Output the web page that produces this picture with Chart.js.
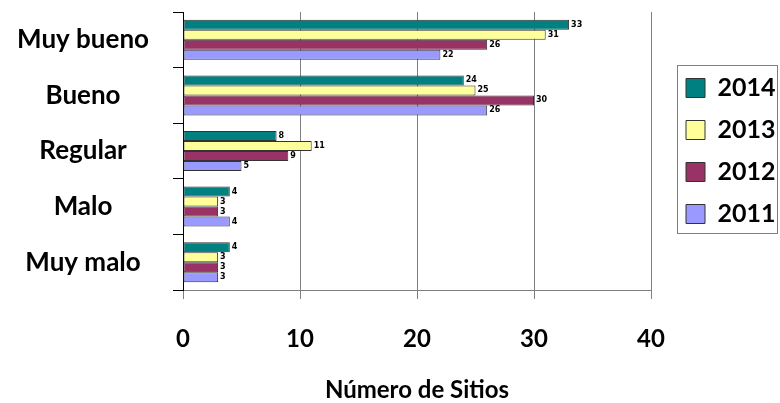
<!DOCTYPE html>
<html>
<head>
<meta charset="utf-8">
<script src="https://cdn.jsdelivr.net/npm/chart.js@4/dist/chart.umd.min.js"></script>
<style>
  html, body { margin: 0; padding: 0; background: #fff; }
  #wrap { width: 780px; height: 403px; }
</style>
</head>
<body>
<div id="wrap"><canvas id="sitiosChart"></canvas></div>
<script>
// categorías y valores por año
const categorias = ["Muy bueno", "Bueno", "Regular", "Malo", "Muy malo"];
const valores2014 = [33, 24, 8, 4, 4];
const valores2013 = [31, 25, 11, 3, 3];
const valores2012 = [26, 30, 9, 3, 3];
const valores2011 = [22, 26, 5, 4, 3];
const ticksX = [0, 10, 20, 30, 40];

const FONT = "Lato, 'Open Sans', sans-serif";

// etiquetas numéricas al final de cada barra
const etiquetasBarras = {
  id: 'etiquetasBarras',
  afterDatasetsDraw(chart) {
    const ctx = chart.ctx;
    ctx.save();
    ctx.font = "bold 8px 'DejaVu Sans', sans-serif";
    ctx.fillStyle = '#000';
    ctx.textAlign = 'left';
    ctx.textBaseline = 'middle';
    chart.data.datasets.forEach((ds, i) => {
      chart.getDatasetMeta(i).data.forEach((bar, j) => {
        ctx.fillText(ds.data[j], bar.x + 2, bar.y);
      });
    });
    ctx.restore();
  }
};

// recuadro alrededor de la leyenda
const marcoLeyenda = {
  id: 'marcoLeyenda',
  afterDraw(chart) {
    const boxes = chart.legend && chart.legend.legendHitBoxes;
    if (!boxes || !boxes.length) return;
    const first = boxes[0], last = boxes[boxes.length - 1];
    const ctx = chart.ctx;
    ctx.save();
    ctx.strokeStyle = '#808080';
    ctx.lineWidth = 1;
    const l = first.left - 9, t = first.top - 11;
    const r = l + 100, b = last.top + last.height + 6;
    ctx.strokeRect(Math.round(l) + 0.5, Math.round(t) + 0.5, Math.round(r - l), Math.round(b - t));
    ctx.restore();
  }
};

const ctx = document.getElementById('sitiosChart').getContext('2d');
new Chart(ctx, {
  type: 'bar',
  data: {
    labels: categorias,
    datasets: [
      { label: '2014', data: valores2014, backgroundColor: '#008080' },
      { label: '2013', data: valores2013, backgroundColor: '#FFFF99' },
      { label: '2012', data: valores2012, backgroundColor: '#993366' },
      { label: '2011', data: valores2011, backgroundColor: '#9999FF' }
    ].map(d => Object.assign(d, {
      borderColor: '#333',
      borderWidth: 1,
      borderSkipped: false,
      categoryPercentage: 0.72,
      barPercentage: 1
    }))
  },
  options: {
    indexAxis: 'y',
    responsive: true,
    maintainAspectRatio: false,
    animation: false,
    layout: { padding: { left: 0, right: 0, top: 12, bottom: 0 } },
    plugins: {
      tooltip: { enabled: false },
      legend: {
        position: 'right',
        fullSize: false,
        maxWidth: 111,
        labels: {
          font: { family: FONT, size: 25, weight: 'bold' },
          color: '#000',
          boxWidth: 19,
          boxHeight: 19,
          padding: 17
        }
      }
    },
    scales: {
      x: {
        min: 0,
        max: 40,
        afterBuildTicks: s => { s.ticks = ticksX.map(v => ({ value: v })); },
        grid: { color: '#808080', tickLength: 9, tickColor: '#808080' },
        border: { color: '#808080' },
        ticks: {
          font: { family: FONT, size: 24, weight: 'bold' },
          color: '#000',
          padding: 26,
          maxRotation: 0
        },
        title: {
          display: true,
          text: 'Número de Sitios',
          align: 'center',
          font: { family: FONT, size: 24, weight: 'bold', lineHeight: 1.1 },
          color: '#000',
          padding: { top: 0, bottom: 0 }
        },
        afterFit: s => { s.height = 113; }
      },
      y: {
        grid: { offset: true, drawOnChartArea: false, tickLength: 10, tickColor: '#000' },
        border: { color: '#000' },
        ticks: {
          font: { family: FONT, size: 26, weight: 'bold' },
          color: '#000',
          crossAlign: 'center',
          padding: 24
        },
        afterFit: s => {
          s.width = 183;
          s.paddingTop = 0;
          s.paddingBottom = 0;
        }
      },
      hueco: {
        type: 'linear',
        position: 'right',
        display: true,
        grid: { display: false },
        border: { display: false },
        ticks: { display: false },
        afterFit: s => { s.width = 18; }
      }
    }
  },
  plugins: [etiquetasBarras, marcoLeyenda]
});
</script>
</body>
</html>
